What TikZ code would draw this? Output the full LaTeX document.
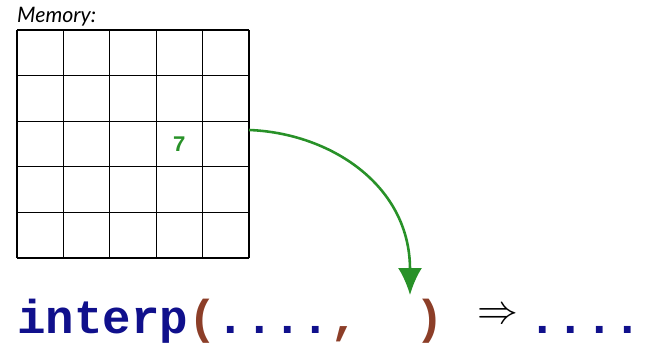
\documentclass[tikz,border=0pt]{standalone}
\usepackage{fontspec}
\newfontfamily\codefont{Liberation Mono}[BoldFont={Liberation Mono Bold}]
\newfontfamily\labelfont{Lato}
\usetikzlibrary{arrows.meta}
\definecolor{CodeClr}{RGB}{16,16,140}
\definecolor{ParenClr}{RGB}{140,62,40}
\definecolor{ValClr}{RGB}{40,145,40}

\begin{document}
\begin{tikzpicture}[x=0.03cm,y=0.03cm]
\useasboundingbox (0,0) rectangle (662,345);

\node[anchor=base west,inner sep=0pt,font=\labelfont\itshape\fontsize{18.2pt}{20pt}\selectfont] (mem) at (17,322) {Memory:};

\draw[line width=0.9pt,xstep=46.4,ystep=45.6,shift={(17,87)}] (0,0) grid (232,228);

\node[font=\codefont\bfseries\fontsize{19pt}{20pt}\selectfont,text=ValClr] (val) at (179.4,201) {7};
\coordinate (cell) at (249,215);

\node[anchor=base west,inner sep=0pt,font=\codefont\bfseries\fontsize{40.5pt}{44pt}\selectfont,text=CodeClr] (call) at (17,11)
  {interp{\color{ParenClr}(}....{\color{ParenClr},}\hspace{1.2em}{\color{ParenClr})}};
\coordinate (slot) at (410,50);

\node[inner sep=0pt,font=\fontsize{24.88pt}{28pt}\selectfont] (impl) at (498,29) {\scalebox{1.4}{$\Rightarrow$}};
\node[anchor=base west,inner sep=0pt,font=\codefont\bfseries\fontsize{40.5pt}{44pt}\selectfont,text=CodeClr] (res) at (528,11) {....};

\draw[ValClr,line width=2.2pt,-{Latex[length=27pt*0.03/0.0353,width=24pt*0.03/0.0353]}] (cell) .. controls (330,212) and (410,160) .. (slot);
\end{tikzpicture}
\end{document}
